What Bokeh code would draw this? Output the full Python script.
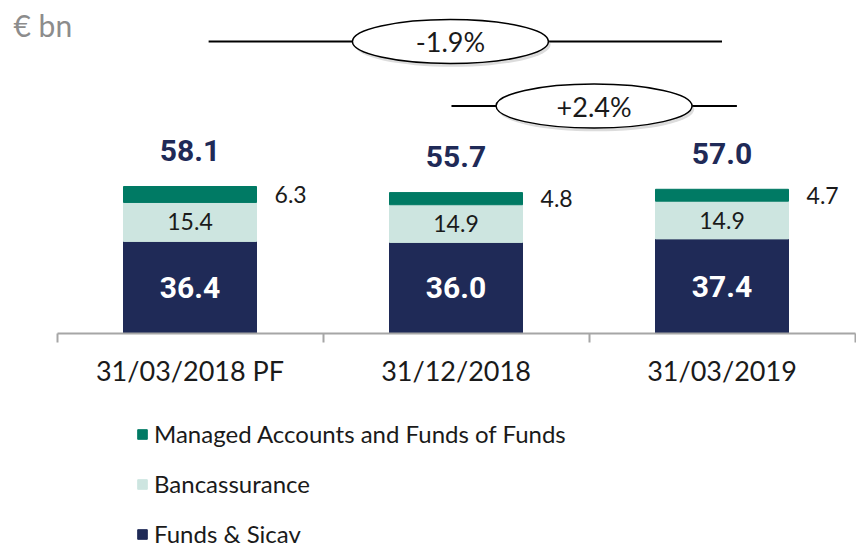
from bokeh.plotting import figure
from bokeh.models import (Range1d, FixedTicker, ColumnDataSource, Legend, LegendItem,
                          Label, LinearAxis)
from bokeh.core.properties import value
from bokeh.embed import file_html
from bokeh.resources import INLINE

# ---- data ----
categories = ["31/03/2018 PF", "31/12/2018", "31/03/2019"]
funds_sicav = [36.4, 36.0, 37.4]
bancassurance = [15.4, 14.9, 14.9]
managed = [6.3, 4.8, 4.7]
totals = [58.1, 55.7, 57.0]
change_labels = ["-1.9%", "+2.4%"]
series_names = ["Funds & Sicav", "Bancassurance", "Managed Accounts and Funds of Funds"]
unit_label = "€ bn"

NAVY = "#1F2A57"
MINT = "#CDE5E0"
TEAL = "#007A64"
AXIS = "#A6A6A6"
FONT = "Lato"
BOLD = "Roboto"

xs = list(range(len(categories)))
src = ColumnDataSource(dict(
    x=xs, funds=funds_sicav, banc=bancassurance, man=managed, tot=totals,
    funds_mid=[f / 2 for f in funds_sicav],
    banc_mid=[f + b / 2 for f, b in zip(funds_sicav, bancassurance)],
    man_mid=[f + b + m / 2 for f, b, m in zip(funds_sicav, bancassurance, managed)],
    funds_txt=[f"{v:.1f}" for v in funds_sicav],
    banc_txt=[f"{v:.1f}" for v in bancassurance],
    man_txt=[f"{v:.1f}" for v in managed],
    tot_txt=[f"{v:.1f}" for v in totals],
    man_x=[x + 0.318 for x in xs],
))

W, H = 856, 549
PX_PER_CAT = 266.0
PX_PER_UNIT = 2.53
X0_PX = 189.5   # pixel of first category centre
Y0_PX = 333.0   # pixel of the zero line

p = figure(frame_width=W, frame_height=H,
           output_backend="svg", toolbar_location=None,
           x_range=Range1d(-X0_PX / PX_PER_CAT, (W - X0_PX) / PX_PER_CAT),
           y_range=Range1d(-(H - Y0_PX) / PX_PER_UNIT, Y0_PX / PX_PER_UNIT),
           x_axis_location=None, y_axis_location=None,
           min_border_left=0, min_border_right=0, min_border_top=0, min_border_bottom=0)
p.outline_line_color = None
p.grid.visible = False
p.background_fill_color = "white"
p.border_fill_color = "white"

rs = p.vbar_stack(["funds", "banc", "man"], x="x", width=0.5, source=src,
                  color=[NAVY, MINT, TEAL])

# segment labels
p.text(x="x", y="funds_mid", text="funds_txt", source=src, text_font=value(BOLD),
       text_font_style="bold", text_font_size="30px", text_color="white",
       text_align="center", text_baseline="middle")
p.text(x="x", y="banc_mid", text="banc_txt", source=src, text_font=value(FONT),
       text_font_size="23px", text_color="#1a1a1a",
       text_align="center", text_baseline="middle")
p.text(x="man_x", y="man_mid", text="man_txt", source=src, text_font=value(FONT),
       text_font_size="23px", text_color="#1a1a1a",
       text_align="left", text_baseline="middle")
p.text(x="x", y="tot", text="tot_txt", source=src, text_font=value(BOLD),
       text_font_style="bold", text_font_size="30px", text_color=NAVY,
       text_align="center", text_baseline="middle", y_offset=-36)

# growth annotations
ann_y = [115.4, 89.9]
ann_cx = [0.979, 1.519]
ann_x0 = [0.07, 0.983]
ann_x1 = [2.0, 2.056]
for lab, y, cx, a, b in zip(change_labels, ann_y, ann_cx, ann_x0, ann_x1):
    p.line(x=[a, b], y=[y, y], line_color="black", line_width=2)
    p.ellipse(x=[cx + 0.008], y=[y - 1.3], width=196, height=44,
              width_units="screen", height_units="screen",
              fill_color="#9a9a9a", fill_alpha=0.35, line_color=None)
    p.ellipse(x=[cx], y=[y], width=196, height=44,
              width_units="screen", height_units="screen",
              fill_color="white", line_color="black", line_width=1.5)
    p.text(x=[cx], y=[y], text=[lab], text_font=value(FONT), text_font_size="27px",
           text_color="#1a1a1a", text_align="center", text_baseline="middle")

# unit label
p.add_layout(Label(x=-0.6635, y=122.0, text=unit_label,
                   text_font=FONT, text_font_size="30px", text_color="#8C8C8C",
                   text_baseline="middle", text_align="left"))

# x axis at zero: labels at centres, tick marks at category boundaries
ax = LinearAxis(fixed_location=0, bounds=(xs[0] - 0.5, xs[-1] + 0.5))
ax.ticker = FixedTicker(ticks=xs, minor_ticks=[x - 0.5 for x in xs] + [xs[-1] + 0.5])
ax.major_label_overrides = {i: c for i, c in enumerate(categories)}
ax.axis_line_color = AXIS
ax.axis_line_width = 2
ax.major_tick_line_color = None
ax.major_tick_out = 0
ax.major_tick_in = 0
ax.minor_tick_line_color = AXIS
ax.minor_tick_line_width = 2
ax.minor_tick_out = 9
ax.minor_tick_in = 0
ax.major_label_text_font = FONT
ax.major_label_text_font_size = "27px"
ax.major_label_text_color = "#1a1a1a"
ax.major_label_standoff = 11
p.add_layout(ax, "below")

legend = Legend(items=[
    LegendItem(label=series_names[2], renderers=[rs[2]]),
    LegendItem(label=series_names[1], renderers=[rs[1]]),
    LegendItem(label=series_names[0], renderers=[rs[0]]),
], location=(136, 1), orientation="vertical", glyph_width=12, glyph_height=12,
    label_text_font=FONT, label_text_font_size="24px", label_text_color="#1a1a1a",
    label_standoff=6, spacing=21, padding=0, margin=0,
    border_line_color=None, background_fill_alpha=0)
p.add_layout(legend)

open("out.html", "w").write(file_html(p, INLINE))
